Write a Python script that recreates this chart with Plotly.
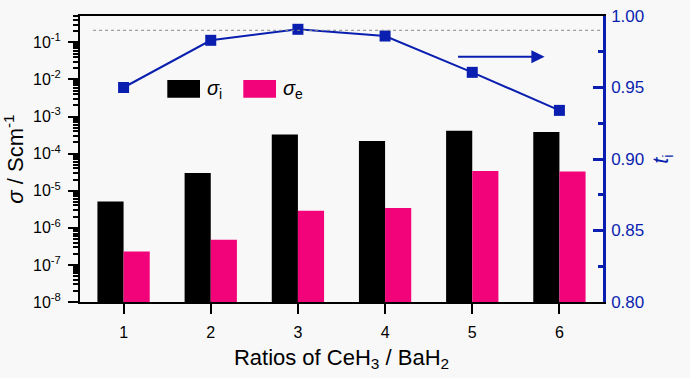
import plotly.graph_objects as go

ratios = [1, 2, 3, 4, 5, 6]
sigma_i = [5.1e-6, 3.0e-5, 3.3e-4, 2.2e-4, 4.15e-4, 3.8e-4]
sigma_e = [2.3e-7, 4.8e-7, 2.9e-6, 3.4e-6, 3.4e-5, 3.3e-5]
t_i = [0.950, 0.983, 0.9907, 0.986, 0.9606, 0.934]
left_tickvals = [1e-8, 1e-7, 1e-6, 1e-5, 1e-4, 1e-3, 1e-2, 1e-1]
left_ticktext = ["10<sup>-8</sup>", "10<sup>-7</sup>", "10<sup>-6</sup>", "10<sup>-5</sup>",
                 "10<sup>-4</sup>", "10<sup>-3</sup>", "10<sup>-2</sup>", "10<sup>-1</sup>"]
right_tickvals = [0.80, 0.85, 0.90, 0.95, 1.00]
minor_mult = [2, 3, 4, 5, 6, 7, 8, 9]
left_minor = [d * m for d in left_tickvals for m in minor_mult]

BLACK = "#000000"
PINK = "#f2037a"
BLUE = "#0a1fb0"
BG = "#f8f8f8"
FONT = "Liberation Sans, Arial, sans-serif"
LOG_RANGE = [-8, -0.29]

fig = go.Figure()
fig.add_trace(go.Bar(x=ratios, y=sigma_i, marker=dict(color=BLACK, line=dict(width=0)),
                     name="σi", showlegend=False))
fig.add_trace(go.Bar(x=ratios, y=sigma_e, marker=dict(color=PINK, line=dict(width=0)),
                     name="σe", showlegend=False))
fig.add_trace(go.Scatter(x=ratios, y=t_i, yaxis="y2", mode="lines+markers",
                         line=dict(color=BLUE, width=2),
                         marker=dict(symbol="square", size=11, color=BLUE),
                         showlegend=False))

# reference dashed line at t_i = 0.99
fig.add_shape(type="line", xref="x", yref="y2", x0=0.65, x1=6.5, y0=0.99, y1=0.99,
              line=dict(color="#888888", width=1, dash="dot"))

# arrow pointing to right axis
fig.add_annotation(x=5.83, y=0.9715, xref="x", yref="y2", ax=4.82, ay=0.9715,
                   axref="x", ayref="y2", text="", showarrow=True,
                   arrowhead=2, arrowsize=1.2, arrowwidth=2.2, arrowcolor=BLUE)

# custom legend
fig.add_shape(type="rect", xref="paper", yref="paper",
              x0=(167.3 - 80) / 523, x1=(200 - 80) / 523,
              y0=1 - (97.7 - 15.7) / 286.8, y1=1 - (80 - 15.7) / 286.8,
              fillcolor=BLACK, line=dict(width=0))
fig.add_shape(type="rect", xref="paper", yref="paper",
              x0=(243.3 - 80) / 523, x1=(276 - 80) / 523,
              y0=1 - (97.7 - 15.7) / 286.8, y1=1 - (80 - 15.7) / 286.8,
              fillcolor=PINK, line=dict(width=0))
fig.add_annotation(x=(205 - 80) / 523, y=1 - (89 - 15.7) / 286.8, xref="paper", yref="paper",
                   text="<i>σ</i><sub>i</sub>", showarrow=False, xanchor="left", yanchor="middle",
                   font=dict(size=20, color=BLACK, family=FONT))
fig.add_annotation(x=(281 - 80) / 523, y=1 - (89 - 15.7) / 286.8, xref="paper", yref="paper",
                   text="<i>σ</i><sub>e</sub>", showarrow=False, xanchor="left", yanchor="middle",
                   font=dict(size=20, color=BLACK, family=FONT))

fig.update_layout(
    width=690, height=378,
    margin=dict(l=80, r=87, t=16, b=76, autoexpand=False),
    paper_bgcolor=BG, plot_bgcolor=BG,
    barmode="group", bargap=0.4, bargroupgap=0,
    font=dict(family=FONT, color=BLACK, size=16),
    xaxis=dict(range=[0.5, 6.5], tickvals=ratios, ticks="outside", ticklen=10, tickwidth=2,
               tickcolor=BLACK, showline=True, linecolor=BLACK, linewidth=2, mirror=True,
               showgrid=False, zeroline=False, tickfont=dict(size=16), ticklabelstandoff=5,
               title=dict(text="Ratios of CeH<sub>3</sub> / BaH<sub>2</sub>",
                          font=dict(size=22), standoff=9)),
    yaxis=dict(type="log", range=LOG_RANGE, tickmode="array",
               tickvals=left_tickvals, ticktext=left_ticktext,
               ticks="outside", ticklen=10, tickwidth=2, tickcolor=BLACK,
               showline=True, linecolor=BLACK, linewidth=2, showgrid=False, zeroline=False,
               tickfont=dict(size=16), ticklabelstandoff=4,
               minor=dict(tickmode="array", tickvals=left_minor, ticks="outside",
                          ticklen=5, tickwidth=1.5, tickcolor=BLACK, showgrid=False),
               title=dict(text="<i>σ</i> / Scm<sup>-1</sup>", font=dict(size=22), standoff=3)),
    yaxis2=dict(overlaying="y", side="right", range=[0.8, 1.0], tickvals=right_tickvals,
                tickformat=".2f", ticks="inside", ticklen=10, tickwidth=2.5, tickcolor=BLUE,
                showline=True, linecolor=BLUE, linewidth=2.5, showgrid=False, zeroline=False,
                tickfont=dict(size=17, color=BLUE), ticklabelstandoff=2,
                minor=dict(ticks="inside", ticklen=5, tickwidth=2.5, tickcolor=BLUE, dtick=0.025),
                title=dict(text="<i>t</i><sub>i</sub>", font=dict(size=22, color=BLUE), standoff=10)),
)

fig.write_html("out.html", config={"displayModeBar": False},
               post_script="document.body.style.margin='0';"
                           "document.body.style.background='#f8f8f8';")
